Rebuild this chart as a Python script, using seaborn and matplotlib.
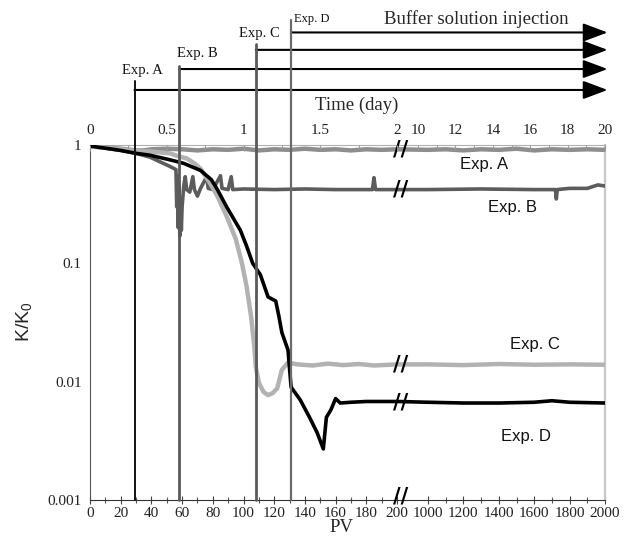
import numpy as np
import matplotlib
matplotlib.use('Agg')
import matplotlib.pyplot as plt
import matplotlib.transforms as mtransforms
from matplotlib.ticker import FixedLocator, NullFormatter
import pandas as pd
import seaborn as sns

# --- data (PV, K/K0) ---
pv_a = [0, 10, 20, 30, 35, 40, 50, 60, 70, 80, 90, 100, 110, 120, 130, 140, 150, 160, 170, 180,
        190, 200, 1000, 1100, 1200, 1300, 1400, 1500, 1600, 1700, 1800, 1900, 2000]
k_a = [0.98, 0.96, 0.93, 0.90, 0.90, 0.92, 0.93, 0.92, 0.90, 0.92, 0.91, 0.93, 0.90, 0.92, 0.91, 0.93,
       0.91, 0.92, 0.90, 0.92, 0.91, 0.92, 0.91, 0.92, 0.90, 0.92, 0.91, 0.93, 0.90, 0.92, 0.91, 0.92, 0.91]

pv_b = [0, 10, 20, 30, 39, 52, 56, 56.5, 57, 57.5, 58, 58.5, 59, 59.5, 60, 61, 62, 63, 65, 67, 68, 70,
        72, 76, 77, 80, 85, 86, 90, 92, 93, 100, 120, 140, 160, 184, 185, 186, 200, 1000, 1300, 1600,
        1720, 1725, 1730, 1800, 1900, 1960, 2000]
k_b = [0.97, 0.94, 0.90, 0.85, 0.79, 0.66, 0.62, 0.30, 0.55, 0.20, 0.45, 0.17, 0.35, 0.19, 0.30, 0.44,
       0.54, 0.42, 0.40, 0.54, 0.42, 0.37, 0.43, 0.54, 0.43, 0.42, 0.55, 0.43, 0.42, 0.54, 0.42, 0.425,
       0.42, 0.425, 0.42, 0.42, 0.53, 0.42, 0.42, 0.42, 0.425, 0.42, 0.42, 0.35, 0.42, 0.43, 0.43,
       0.46, 0.45]

pv_c = [0, 10, 20, 30, 40, 52, 58, 63, 68, 72, 78, 83, 89, 95, 99, 102, 105, 107, 108, 110, 113, 116,
        119, 122, 125, 129, 135, 145, 155, 165, 175, 185, 200, 1000, 1200, 1400, 1600, 1800, 2000]
k_c = [0.97, 0.95, 0.92, 0.89, 0.88, 0.85, 0.80, 0.77, 0.70, 0.63, 0.48, 0.37, 0.25, 0.16, 0.10, 0.064,
       0.035, 0.020, 0.0134, 0.0098, 0.0082, 0.0077, 0.0080, 0.0088, 0.0126, 0.0145, 0.0140, 0.0137,
       0.0142, 0.0138, 0.0141, 0.0137, 0.0140, 0.0140, 0.0138, 0.0141, 0.0139, 0.0140, 0.0139]

pv_d = [0, 10, 20, 30, 39, 52, 61, 72, 79, 83, 89, 98, 102, 106, 111, 116, 121, 123, 125, 129, 131,
        137, 143, 148, 152, 154, 157, 160, 163, 170, 180, 190, 200, 1000, 1200, 1400, 1600, 1700, 1800, 2000]
k_d = [0.98, 0.94, 0.90, 0.85, 0.82, 0.75, 0.70, 0.61, 0.51, 0.42, 0.30, 0.19, 0.14, 0.10, 0.08, 0.052,
       0.048, 0.036, 0.026, 0.0185, 0.0090, 0.0070, 0.0050, 0.0037, 0.0027, 0.0050, 0.0058, 0.0072,
       0.0066, 0.0067, 0.0068, 0.0068, 0.0068, 0.0067, 0.0066, 0.0066, 0.0067, 0.0069, 0.0067, 0.0066]

exp_names = ['Exp. A', 'Exp. B', 'Exp. C', 'Exp. D']
exp_pv = [29, 58, 108, 131]

bottom_major = [0, 20, 40, 60, 80, 100, 120, 140, 160, 180, 200, 1000, 1200, 1400, 1600, 1800, 2000]
bottom_minor = [10, 30, 50, 70, 90, 110, 130, 150, 170, 190, 1100, 1300, 1500, 1700, 1900]
top_major = [0, 0.5, 1, 1.5, 2, 10, 12, 14, 16, 18, 20]
top_labels = ['0', '0.5', '1', '1.5', '2', '10', '12', '14', '16', '18', '20']
top_minor = [0.25, 0.75, 1.25, 1.75, 11, 13, 15, 17, 19]
y_major = [0.001, 0.01, 0.1, 1]
y_labels = ['0.001', '0.01', '0.1', '1']

# broken axes: piecewise linear scales (positions in screen pixels)
pv_knots = [-1e4, 0, 200, 1000, 2000, 1e5]
pv_pos = [-15350, 0, 307, 338, 515, 515 + 98000 * 0.177]
day_knots = [-100, 0, 2, 10, 20, 1000]
day_pos = [-15350, 0, 307, 328, 515, 515 + 980 * 18.7]


def pv_fwd(x):
    return np.interp(x, pv_knots, pv_pos)


def pv_inv(x):
    return np.interp(x, pv_pos, pv_knots)


def day_fwd(x):
    return np.interp(x, day_knots, day_pos)


def day_inv(x):
    return np.interp(x, day_pos, day_knots)


sns.set_style('white')
plt.rcParams['font.family'] = ['Liberation Serif', 'DejaVu Serif']
serif = 'Liberation Serif'
sans = 'Liberation Sans'

fig = plt.figure(figsize=(6.32, 5.45), dpi=100)
ax = fig.add_axes([90 / 632, 45 / 545, 515 / 632, 355 / 545])
ax.set_xscale('function', functions=(pv_fwd, pv_inv))
ax.set_yscale('log')

series = [(pv_a, k_a, '#8e8e8e', 3.2), (pv_b, k_b, '#5c5c5c', 2.6),
          (pv_c, k_c, '#b2b2b2', 3.2), (pv_d, k_d, '#000000', 2.6)]
for name, (xs, ys, col, lw) in zip(exp_names, series):
    df = pd.DataFrame({'PV': xs, 'K': ys})
    sns.lineplot(data=df, x='PV', y='K', ax=ax, color=col, linewidth=lw,
                 estimator=None, sort=False, legend=False, zorder=3)

ax.set_xlim(0, 2000)
ax.set_ylim(0.001, 1)
ax.set_xlabel('')
ax.set_ylabel('')

ax.xaxis.set_major_locator(FixedLocator(bottom_major))
ax.xaxis.set_minor_locator(FixedLocator(bottom_minor))
ax.set_xticklabels([str(v) for v in bottom_major])
ax.xaxis.set_minor_formatter(NullFormatter())
ax.yaxis.set_major_locator(FixedLocator(y_major))
ax.set_yticklabels(y_labels)
ax.yaxis.set_minor_locator(matplotlib.ticker.LogLocator(base=10, subs=np.arange(2, 10)))
ax.yaxis.set_minor_formatter(NullFormatter())
ax.tick_params(axis='both', which='major', direction='inout', length=6, width=0.8,
               color='#444444', labelsize=11, labelcolor='#222222')
ax.tick_params(axis='both', which='minor', direction='inout', length=4, width=0.8, color='#555555')
ax.tick_params(axis='x', pad=2)
ax.tick_params(axis='y', pad=3)
for lab in ax.get_xticklabels() + ax.get_yticklabels():
    lab.set_family(serif)

ax.spines['left'].set_color('#555555')
ax.spines['bottom'].set_color('#333333')
ax.spines['right'].set_color('#c8c8c8')
ax.spines['right'].set_linewidth(1.6)
ax.spines['top'].set_color('#b0b0b0')
for sp in ax.spines.values():
    sp.set_visible(True)

# top time axis
ax2 = ax.twiny()
ax2.set_xscale('function', functions=(day_fwd, day_inv))
ax2.set_xlim(0, 20)
ax2.xaxis.set_major_locator(FixedLocator(top_major))
ax2.set_xticklabels(top_labels)
ax2.xaxis.set_minor_locator(FixedLocator(top_minor))
ax2.xaxis.set_minor_formatter(NullFormatter())
ax2.tick_params(axis='x', which='major', direction='in', length=4, width=0.7, color='#999999',
                labelsize=11, labelcolor='#222222', pad=6)
ax2.tick_params(axis='x', which='minor', direction='in', length=3, width=0.7, color='#999999')
for lab in ax2.get_xticklabels():
    lab.set_family(serif)
for sp in ax2.spines.values():
    sp.set_visible(False)

# injection lines and arrows
blend = mtransforms.blended_transform_factory(ax.transData, ax.transAxes)
line_tops = [1.180, 1.223, 1.285, 1.352]
arrow_y = [1.155, 1.214, 1.268, 1.317]
line_cols = ['#111111', '#5a5a5a', '#5a5a5a', '#6a6a6a']
line_w = [1.4, 2.0, 2.0, 1.6]
for pv, top, ya, col, lw in zip(exp_pv, line_tops, arrow_y, line_cols, line_w):
    ax.plot([pv, pv], [0, top], transform=blend, color=col, lw=lw, clip_on=False, zorder=4)
    ax.annotate('', xy=(1.005, ya), xycoords='axes fraction',
                xytext=(pv, ya), textcoords=blend,
                arrowprops=dict(arrowstyle='-|>,head_length=0.75,head_width=0.28',
                                mutation_scale=20, color='black', lw=1.5,
                                shrinkA=0, shrinkB=0))

label_pos = [(0.101, 1.209, 'center', 10.5), (0.208, 1.259, 'center', 10.5),
             (0.328, 1.315, 'center', 10.5), (0.396, 1.355, 'left', 9)]
for name, (lx, ly, ha, fs) in zip(exp_names, label_pos):
    ax.text(lx, ly, name, transform=ax.transAxes, ha=ha, va='center', fontsize=fs,
            family=serif, color='#111111')

ax.text(0.751, 1.355, 'Buffer solution injection', transform=ax.transAxes, ha='center',
        va='center', fontsize=13.5, family=serif)
ax.text(0.518, 1.113, 'Time (day)', transform=ax.transAxes, ha='center', va='center',
        fontsize=13.5, family=serif)

# curve labels inside the plot
inside_pos = [(0.765, 0.946), (0.821, 0.823), (0.864, 0.437), (0.847, 0.180)]
for name, (lx, ly) in zip(exp_names, inside_pos):
    ax.text(lx, ly, name, transform=ax.transAxes, ha='center', va='center', fontsize=12,
            family=sans, color='#111111')

# break marks
for yb in [0.915, 0.42, 0.014, 0.0067, 0.00107]:
    ax.text(300, yb, '//', ha='center', va='center', fontsize=15, fontweight='heavy',
            family='DejaVu Sans', color='black', zorder=6, clip_on=False)

fig.text(25 / 632, 1 - 322 / 545, r'K/K$_\mathregular{0}$', rotation=90, ha='center', va='center',
         fontsize=14, family=sans)
fig.text(341 / 632, 1 - 528 / 545, 'PV', ha='center', va='center', fontsize=13.5, family=serif)

fig.savefig('out.png', dpi=100)
